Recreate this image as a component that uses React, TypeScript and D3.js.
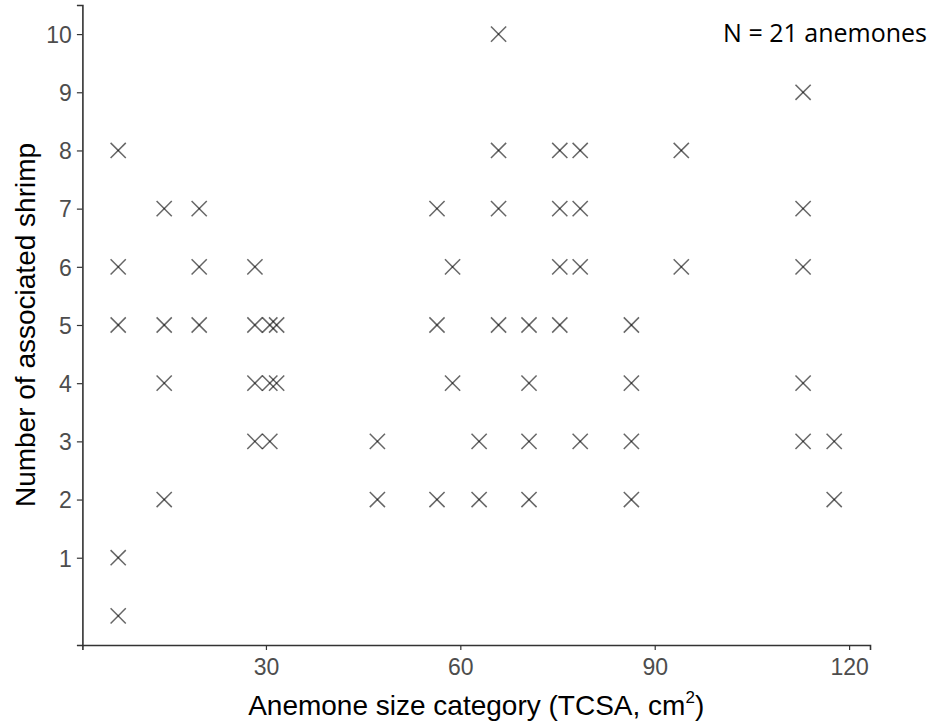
import { useEffect, useRef } from "react";
import * as d3 from "d3";

// anemone size categories (TCSA, cm2) and shrimp counts seen at each
const sizes = [
  7.2, 14.3, 19.7, 28.3, 30.6, 31.65, 47.2, 56.4, 58.8, 62.9, 65.9, 70.6, 75.35,
  78.5, 86.4, 94.1, 112.9, 117.7,
];
const shrimpCounts = [
  [0, 1, 5, 6, 8],
  [2, 4, 5, 7],
  [5, 6, 7],
  [3, 4, 5, 6],
  [3, 4, 5],
  [4, 5],
  [2, 3],
  [2, 5, 7],
  [4, 6],
  [2, 3],
  [5, 7, 8, 10],
  [2, 3, 4, 5],
  [5, 6, 7, 8],
  [3, 6, 7, 8],
  [2, 3, 4, 5],
  [6, 8],
  [3, 4, 6, 7, 9],
  [2, 3],
];
const xTicks = [30, 60, 90, 120];
const yTicks = [1, 2, 3, 4, 5, 6, 7, 8, 9, 10];

function App() {
  const svgRef = useRef<SVGSVGElement | null>(null);
  const width = 933;
  const height = 727;
  const left = 82.4;
  const right = 870;
  const top = 5;
  const bottom = 645;

  useEffect(() => {
    const svg = d3.select(svgRef.current);
    svg.selectAll("*").remove();

    const points: { x: number; y: number }[] = [];
    sizes.forEach((s, i) => {
      shrimpCounts[i].forEach((c) => points.push({ x: s, y: c }));
    });

    // ggplot style 5% expansion
    const xExt = d3.extent(points, (d) => d.x) as [number, number];
    const xPad = (xExt[1] - xExt[0]) * 0.05;
    const xScale = d3
      .scaleLinear()
      .domain([xExt[0] - xPad, xExt[1] + xPad])
      .range([left, right]);
    const yScale = d3
      .scaleLinear()
      .domain([-0.5, 10.5])
      .range([bottom, top]);

    const xAxis = d3.axisBottom(xScale).tickValues(xTicks).tickSize(5).tickPadding(8.5);
    const yAxis = d3.axisLeft(yScale).tickValues(yTicks).tickSize(5.5).tickPadding(5);

    const gx = svg
      .append("g")
      .attr("transform", `translate(0, ${bottom})`)
      .call(xAxis);
    const gy = svg
      .append("g")
      .attr("transform", `translate(${left}, 0)`)
      .call(yAxis);

    [gx, gy].forEach((g) => {
      g.select(".domain").attr("stroke", "#333").attr("stroke-width", 1.6);
      g.selectAll(".tick line").attr("stroke", "#333").attr("stroke-width", 1.2);
      g.selectAll(".tick text")
        .attr("fill", "#4d4d4d")
        .attr("font-family", "Liberation Sans, Arial, sans-serif")
        .attr("font-size", 23);
    });
    gy.selectAll(".tick text").attr("dy", "0.36em");

    // X markers (shape 4)
    const r = 7.6;
    const marks = svg.append("g");
    points.forEach((p) => {
      const cx = xScale(p.x);
      const cy = yScale(p.y);
      marks
        .append("line")
        .attr("x1", cx - r)
        .attr("y1", cy - r)
        .attr("x2", cx + r)
        .attr("y2", cy + r)
        .attr("stroke", "#000")
        .attr("stroke-opacity", 0.6)
        .attr("stroke-width", 1.5);
      marks
        .append("line")
        .attr("x1", cx - r)
        .attr("y1", cy + r)
        .attr("x2", cx + r)
        .attr("y2", cy - r)
        .attr("stroke", "#000")
        .attr("stroke-opacity", 0.6)
        .attr("stroke-width", 1.5);
    });

    const xTitle = svg
      .append("text")
      .attr("x", (left + right) / 2)
      .attr("y", 715)
      .attr("text-anchor", "middle")
      .attr("font-family", "Liberation Sans, Arial, sans-serif")
      .attr("font-size", 28)
      .attr("fill", "#000");
    xTitle.append("tspan").text("Anemone size category (TCSA, cm");
    xTitle
      .append("tspan")
      .attr("font-size", 17)
      .attr("dy", -12)
      .text("2");
    xTitle.append("tspan").attr("dy", 12).text(")");

    svg
      .append("text")
      .attr("transform", `translate(35, ${(top + bottom) / 2}) rotate(-90)`)
      .attr("text-anchor", "middle")
      .attr("font-family", "Liberation Sans, Arial, sans-serif")
      .attr("font-size", 28)
      .attr("fill", "#000")
      .text("Number of associated shrimp");

    svg
      .append("text")
      .attr("x", 927)
      .attr("y", 41.5)
      .attr("text-anchor", "end")
      .attr("font-family", "Open Sans, sans-serif")
      .attr("font-size", 25)
      .attr("fill", "#000")
      .text("N = 21 anemones");
  }, []);

  return (
    <div style={{ position: "absolute", left: 0, top: 0 }}>
      <svg ref={svgRef} width={width} height={height} style={{ display: "block", background: "#fff" }}></svg>
    </div>
  );
}

export default App;
